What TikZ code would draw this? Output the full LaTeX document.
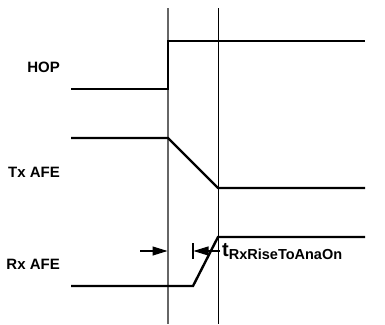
\documentclass[tikz,border=0pt]{standalone}
\usepackage{fontspec}
\setmainfont{Liberation Sans}
\usetikzlibrary{arrows.meta}
\begin{document}
\begin{tikzpicture}[x=1pt,y=-1pt,
  wave/.style={line width=2.4pt,line join=miter},
  guide/.style={line width=1.1pt},
  lbl/.style={font=\fontsize{15}{16}\selectfont\bfseries,anchor=east,inner sep=0pt},
  dim/.style={line width=1.1pt,-{Triangle[length=15pt,width=9pt]}}]
\useasboundingbox (0,0) rectangle (385,324);
% guide lines
\coordinate (g1t) at (168,8); \coordinate (g1b) at (168,324);
\coordinate (g2t) at (218,8); \coordinate (g2b) at (218,324);
\draw[guide,draw=black!60] (g1t) -- (g1b);
\draw[guide,line width=0.9pt] (g2t) -- (g2b);
% HOP
\coordinate (h0) at (71,89); \coordinate (h1) at (168,89);
\coordinate (h2) at (168,41); \coordinate (h3) at (365,41);
\draw[wave] (h0) -- (h1) -- (h2) -- (h3);
% Tx AFE
\coordinate (t0) at (71,138); \coordinate (t1) at (168,138);
\coordinate (t2) at (218,188); \coordinate (t3) at (365,188);
\draw[wave] (t0) -- (t1) -- (t2) -- (t3);
% Rx AFE
\coordinate (r0) at (71,286); \coordinate (r1) at (193,286);
\coordinate (r2) at (218,237); \coordinate (r3) at (365,237);
\draw[wave] (r0) -- (r1) -- (r2) -- (r3);
% labels
\node[lbl] (hop) at (60,67) {HOP};
\node[lbl] (tx) at (60,172) {Tx AFE};
\node[lbl] (rx) at (60,264) {Rx AFE};
% dimension
\coordinate (a1s) at (140,251); \coordinate (a1e) at (167.5,251);
\draw[dim] (a1s) -- (a1e);
\coordinate (k1) at (193,243); \coordinate (k2) at (193,259);
\draw[line width=1.1pt] (k1) -- (k2);
\coordinate (a2s) at (220,251); \coordinate (a2e) at (193.5,251);
\draw[dim] (a2s) -- (a2e);
\node[anchor=base west,inner sep=0pt,font=\fontsize{20}{21}\selectfont\bfseries] (tl) at (222,256)
  {t\raisebox{-3pt}{\fontsize{14.5}{15}\selectfont RxRiseToAnaOn}};
\end{tikzpicture}
\end{document}
